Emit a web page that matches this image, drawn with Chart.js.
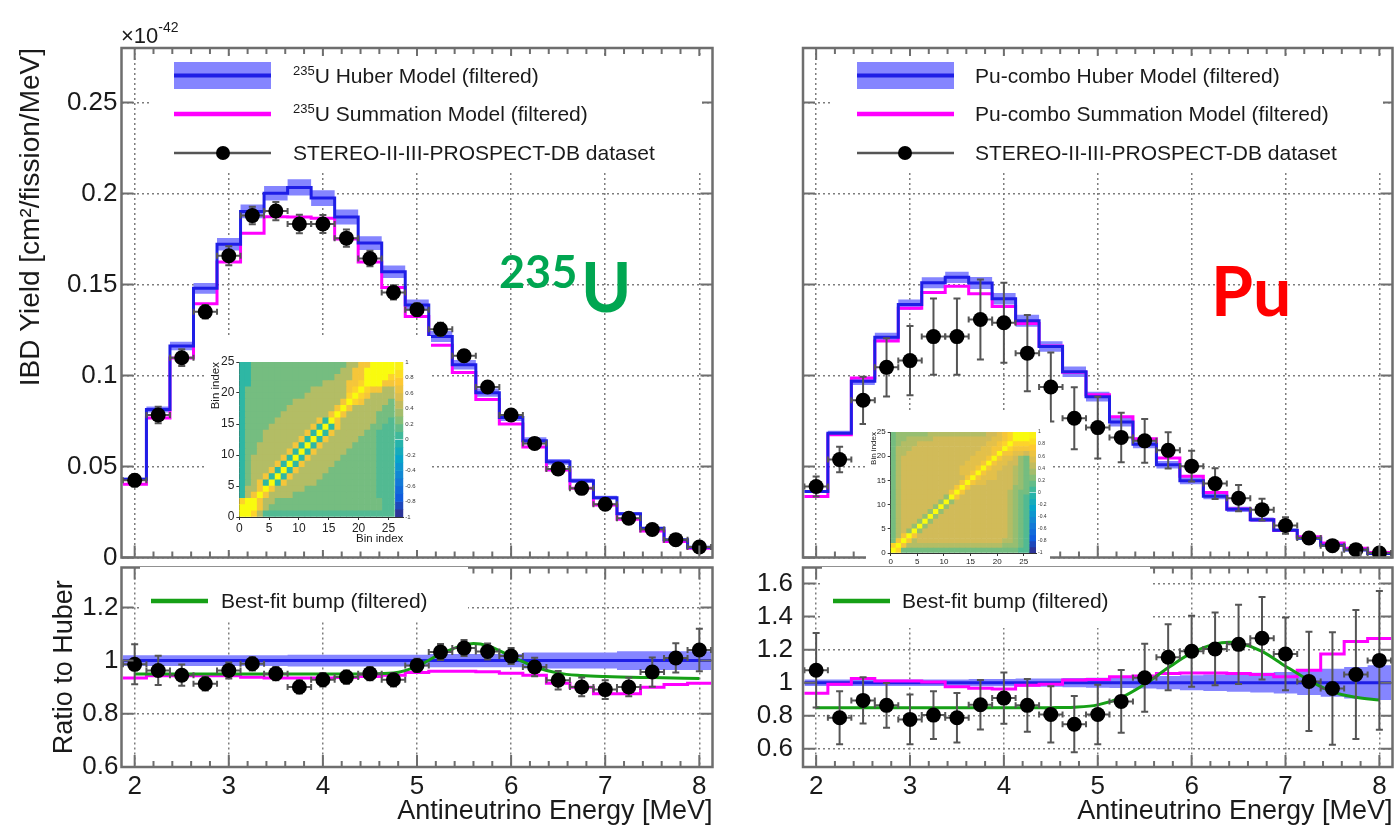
<!DOCTYPE html>
<html>
<head>
<meta charset="utf-8">
<title>IBD yield: 235U and Pu vs Huber / summation models</title>
<script src="https://cdn.jsdelivr.net/npm/chart.js@4.4.1/dist/chart.umd.min.js"></script>
<style>
  body { margin: 0; width: 1400px; height: 828px; background: #fff; position: relative; overflow: hidden; }
  canvas { position: absolute; }
  canvas.inset { background: #fff; }
  svg { position: absolute; left: 0; top: 0; pointer-events: none; }
</style>
</head>
<body>
<canvas id="yieldU" width="720" height="565" style="left:0;top:0"></canvas>
<canvas id="ratioU" width="720" height="268" style="left:0;top:560px"></canvas>
<canvas id="yieldPu" width="680" height="565" style="left:720px;top:0"></canvas>
<canvas id="ratioPu" width="680" height="268" style="left:720px;top:560px"></canvas>
<canvas id="corrU" class="inset" width="224" height="214" style="left:207px;top:336px"></canvas>
<canvas id="corrPu" class="inset" width="184" height="154" style="left:866px;top:410px"></canvas>

<svg width="1400" height="828" font-family="Liberation Sans, Arial, sans-serif" fill="#1a1a1a">
  <!-- exponent of the yield axis -->
  <text x="121" y="43" font-size="22">×10<tspan font-size="14" dy="-11">-42</tspan></text>

  <!-- 235U legend -->
  <rect x="150" y="56" width="552" height="116" fill="#fff"/>
  <rect x="174" y="62" width="97" height="27" fill="#8585ff"/>
  <line x1="174" y1="75.5" x2="271" y2="75.5" stroke="#1e1ee6" stroke-width="4"/>
  <text x="293" y="83" font-size="21"><tspan font-size="13" dy="-8">235</tspan><tspan dy="8">U Huber Model (filtered)</tspan></text>
  <line x1="174" y1="114" x2="271" y2="114" stroke="#ff00ff" stroke-width="4.5"/>
  <text x="293" y="121" font-size="21"><tspan font-size="13" dy="-8">235</tspan><tspan dy="8">U Summation Model (filtered)</tspan></text>
  <line x1="174" y1="153" x2="271" y2="153" stroke="#555" stroke-width="2.5"/>
  <circle cx="223" cy="153" r="7" fill="#000"/>
  <text x="293" y="160" font-size="21">STEREO-II-III-PROSPECT-DB dataset</text>

  <!-- Pu legend -->
  <rect x="831" y="56" width="552" height="116" fill="#fff"/>
  <rect x="857" y="62" width="97" height="27" fill="#8585ff"/>
  <line x1="857" y1="75.5" x2="954" y2="75.5" stroke="#1e1ee6" stroke-width="4"/>
  <text x="975" y="83" font-size="21">Pu-combo Huber Model (filtered)</text>
  <line x1="857" y1="114" x2="954" y2="114" stroke="#ff00ff" stroke-width="4.5"/>
  <text x="975" y="121" font-size="21">Pu-combo Summation Model (filtered)</text>
  <line x1="857" y1="153" x2="954" y2="153" stroke="#555" stroke-width="2.5"/>
  <circle cx="905" cy="153" r="7" fill="#000"/>
  <text x="975" y="160" font-size="21">STEREO-II-III-PROSPECT-DB dataset</text>

  <!-- bump legends -->
  <rect x="140" y="567" width="328" height="55" fill="#fff"/>
  <line x1="151" y1="601" x2="208" y2="601" stroke="#16a016" stroke-width="4.5"/>
  <text x="221" y="608" font-size="21">Best-fit bump (filtered)</text>
  <rect x="822" y="567" width="328" height="61" fill="#fff"/>
  <line x1="833" y1="601" x2="890" y2="601" stroke="#16a016" stroke-width="4.5"/>
  <text x="902" y="608" font-size="21">Best-fit bump (filtered)</text>

  <!-- isotope tags -->
  <text x="499" y="288" font-family="Lato, Open Sans, sans-serif" font-weight="700" font-size="45" fill="#00a651">235</text>
  <text x="581" y="312" font-family="Lato, Open Sans, sans-serif" font-weight="700" font-size="68" fill="#00a651">U</text>
  <text x="1211" y="316" font-family="Lato, Open Sans, sans-serif" font-weight="700" font-size="68" fill="#ff0000">Pu</text>
</svg>

<script>
// bin centres (MeV), bins are 0.25 MeV wide
var energy = [2.0, 2.25, 2.5, 2.75, 3.0, 3.25, 3.5, 3.75, 4.0, 4.25, 4.5, 4.75, 5.0,
              5.25, 5.5, 5.75, 6.0, 6.25, 6.5, 6.75, 7.0, 7.25, 7.5, 7.75, 8.0];
var binHalf = 0.125;

// ---- 235U, yield in 1e-42 cm2/fission/MeV ----
var huberU = [0.043, 0.0813, 0.1162, 0.1479, 0.1722, 0.1902, 0.2002, 0.2034, 0.1975, 0.1871, 0.1728, 0.157, 0.1387,
              0.1215, 0.1059, 0.0906, 0.077, 0.0642, 0.0526, 0.0422, 0.0329, 0.024, 0.0161, 0.0097, 0.0056];
var huberBandU = [0.02, 0.02, 0.02, 0.02, 0.02, 0.02, 0.02, 0.022, 0.022, 0.022, 0.022, 0.022, 0.022,
                  0.025, 0.025, 0.025, 0.025, 0.03, 0.03, 0.03, 0.03, 0.035, 0.035, 0.035, 0.035];
var summationU = [0.0402, 0.0767, 0.1096, 0.1395, 0.1624, 0.1782, 0.1872, 0.1871, 0.1865, 0.1751, 0.1624, 0.1484, 0.1325,
                  0.1166, 0.1017, 0.0868, 0.0733, 0.0607, 0.0481, 0.038, 0.0288, 0.021, 0.0145, 0.0088, 0.0051];
var yieldU = [0.0424, 0.0783, 0.1098, 0.135, 0.1658, 0.1879, 0.1904, 0.1833, 0.1833, 0.1755, 0.1643, 0.1457, 0.1362,
              0.1254, 0.1109, 0.0937, 0.0783, 0.0627, 0.0487, 0.038, 0.0293, 0.0216, 0.0154, 0.0098, 0.0058];
var yieldErrU = [0.0032, 0.0045, 0.0046, 0.0037, 0.0052, 0.0048, 0.005, 0.0051, 0.0049, 0.0047, 0.0043, 0.0039, 0.0035,
                 0.0036, 0.0032, 0.0027, 0.0023, 0.0022, 0.0018, 0.0015, 0.0012, 0.0008, 0.0009, 0.0005, 0.0004];
var ratioU = [0.986, 0.963, 0.945, 0.913, 0.963, 0.988, 0.951, 0.901, 0.928, 0.938, 0.951, 0.928, 0.982,
              1.032, 1.047, 1.034, 1.017, 0.976, 0.926, 0.901, 0.891, 0.901, 0.957, 1.01, 1.04];
var ratioErrU = [0.075, 0.055, 0.04, 0.025, 0.03, 0.025, 0.025, 0.025, 0.025, 0.025, 0.025, 0.025, 0.025,
                 0.03, 0.03, 0.03, 0.03, 0.035, 0.035, 0.035, 0.035, 0.035, 0.055, 0.055, 0.08];
var summationRatioU = [0.935, 0.943, 0.943, 0.943, 0.943, 0.937, 0.935, 0.935, 0.935, 0.936, 0.94, 0.945, 0.955,
                       0.96, 0.96, 0.958, 0.952, 0.945, 0.915, 0.9, 0.875, 0.875, 0.9, 0.91, 0.915];
var bumpEnergyU = [2.0, 2.5, 3.0, 3.5, 4.0, 4.5, 4.75, 5.0, 5.25, 5.5, 5.6, 5.75, 6.0, 6.25, 6.5, 6.75, 7.0, 7.5, 8.0];
var bumpU = [0.95, 0.95, 0.95, 0.95, 0.95, 0.95, 0.953, 0.978, 1.025, 1.058, 1.064, 1.056, 1.016, 0.977, 0.953, 0.944, 0.94, 0.936, 0.933];

// ---- Pu-combo ----
var huberPu = [0.0363, 0.0683, 0.0968, 0.1211, 0.139, 0.151, 0.154, 0.1509, 0.1422, 0.1301, 0.116, 0.1021, 0.0884,
               0.0744, 0.0622, 0.051, 0.0422, 0.0337, 0.0265, 0.0207, 0.015, 0.0106, 0.0067, 0.0041, 0.0022];
var huberBandPu = [0.02, 0.02, 0.02, 0.02, 0.02, 0.02, 0.02, 0.022, 0.022, 0.025, 0.025, 0.028, 0.03,
                   0.032, 0.035, 0.04, 0.045, 0.05, 0.055, 0.06, 0.065, 0.075, 0.085, 0.095, 0.105];
var summationPu = [0.0335, 0.0674, 0.0987, 0.119, 0.137, 0.1457, 0.149, 0.1449, 0.138, 0.1286, 0.1163, 0.1018, 0.0895,
                   0.0773, 0.0652, 0.0547, 0.0447, 0.0357, 0.0266, 0.0207, 0.0148, 0.0114, 0.0079, 0.0051, 0.0028];
var yieldPu = [0.039, 0.0538, 0.0864, 0.1045, 0.1082, 0.1214, 0.1214, 0.1308, 0.129, 0.1123, 0.0937, 0.0765, 0.0714,
               0.066, 0.0641, 0.0589, 0.0502, 0.0406, 0.0326, 0.0263, 0.0176, 0.0107, 0.0065, 0.0043, 0.0025];
var yieldErrPu = [0.0055, 0.007, 0.013, 0.016, 0.019, 0.021, 0.021, 0.022, 0.022, 0.021, 0.019, 0.017, 0.017,
                  0.0136, 0.012, 0.01, 0.0084, 0.0084, 0.0072, 0.006, 0.0045, 0.0032, 0.0023, 0.0016, 0.0009];
var ratioPu = [1.075, 0.788, 0.893, 0.863, 0.778, 0.804, 0.788, 0.867, 0.907, 0.863, 0.808, 0.749, 0.808,
               0.887, 1.03, 1.154, 1.19, 1.204, 1.232, 1.269, 1.174, 1.008, 0.965, 1.05, 1.135];
var ratioErrPu = [0.225, 0.16, 0.14, 0.135, 0.15, 0.145, 0.15, 0.15, 0.155, 0.16, 0.17, 0.17, 0.18,
                  0.19, 0.205, 0.2, 0.215, 0.22, 0.24, 0.25, 0.22, 0.3, 0.34, 0.39, 0.42];
var summationRatioPu = [0.936, 0.99, 1.026, 1.01, 1.01, 1.005, 0.976, 0.966, 0.962, 0.985, 0.99, 1.016, 1.02,
                        1.036, 1.04, 1.055, 1.058, 1.058, 1.055, 1.05, 1.036, 1.075, 1.174, 1.25, 1.267];
var bumpEnergyPu = [2.0, 2.5, 3.0, 3.5, 4.0, 4.5, 4.75, 5.0, 5.25, 5.5, 5.75, 6.0, 6.25, 6.4, 6.5, 6.75, 7.0, 7.25, 7.5, 7.75, 8.0];
var bumpPu = [0.848, 0.848, 0.848, 0.848, 0.848, 0.849, 0.852, 0.866, 0.91, 0.99, 1.09, 1.18, 1.235, 1.245, 1.24, 1.19, 1.1, 1.015, 0.945, 0.912, 0.895];

// ---- correlation matrices (insets), one string per bin row from bottom, A = 1.0, digit d = d/10 ----
var corrRowsU = [
  "AA841 11111 11111 11111 11111 1",
  "AAA74 22222 22222 22222 22221 1",
  "8AA74 42222 22222 22222 22221 1",
  "047A7 44442 22222 22222 22211 1",
  "0447A 74444 42222 22222 22211 1",
  "02470 A0744 44422 22222 22211 1",
  "02447 0A074 44442 22222 22211 1",
  "02444 70A07 44444 22222 22211 1",
  "02444 470A0 74444 42222 22211 1",
  "02444 4470A 07444 44222 22211 1",
  "02244 44470 A0744 44422 22211 1",
  "02244 44447 0A074 44442 22211 1",
  "02224 44444 70A07 44444 22211 1",
  "02224 44444 470A0 74444 42211 1",
  "02222 44444 4470A 07444 44221 1",
  "02222 24444 44470 A7444 44422 1",
  "02222 22444 44444 7A744 44422 2",
  "02222 22244 44444 47A74 44442 2",
  "02222 22224 44444 447A8 74444 2",
  "02222 22222 24444 4448A 87444 4",
  "02222 22222 22444 44478 A8774 4",
  "00222 22222 22224 44477 8AAA7 7",
  "00222 22222 22222 24447 7AAAA 8",
  "00222 22222 22222 22447 7AAAA A",
  "00222 22222 22222 22244 77AAA A"
];
var corrRowsPu = [
  "A8222 22222 22222 22222 22221 1",
  "8A744 44444 44444 44444 43332 1",
  "27A74 55555 55555 55555 54432 1",
  "247A7 55555 55555 55555 55432 1",
  "2453A 35555 55555 55555 55432 1",
  "24553 A3555 55555 55555 55432 1",
  "24555 3A355 55555 55555 55432 1",
  "24555 53A35 55555 55555 55432 1",
  "24555 553A3 55555 55555 55432 1",
  "24555 5553A 35555 55555 55432 1",
  "24555 55553 A3555 55555 55432 1",
  "24555 55555 3A755 55555 55432 1",
  "24555 55555 57A75 55555 55432 2",
  "24555 55555 557A7 55555 55533 2",
  "24555 55555 5557A 76655 55543 2",
  "24555 55555 55557 A7666 55543 2",
  "24555 55555 55566 7A766 55543 2",
  "24555 55555 55566 67A76 65543 2",
  "24555 55555 55556 667A7 66553 2",
  "24555 55555 55555 6667A 76653 2",
  "24455 55555 55555 56667 A7766 5",
  "24445 55555 55555 55667 7A877 7",
  "23444 55555 55555 55566 78A88 8",
  "23344 44455 55555 55556 678AA A",
  "23333 33444 44444 44455 678AA A"
];
var paletteSteps = [-1, -0.9, -0.8, -0.7, -0.6, -0.5, -0.4, -0.3, -0.2, -0.1, 0, 0.1, 0.2, 0.3, 0.4, 0.5, 0.6, 0.7, 0.8, 0.9];

// ROOT "bird" palette
var birdStops = [0, 0.125, 0.25, 0.375, 0.5, 0.625, 0.75, 0.875, 1];
var birdR = [0.2082, 0.0592, 0.0780, 0.0232, 0.1802, 0.5301, 0.8186, 0.9956, 0.9764];
var birdG = [0.1664, 0.3599, 0.5041, 0.6419, 0.7178, 0.7492, 0.7328, 0.7862, 0.9832];
var birdB = [0.5293, 0.8684, 0.8385, 0.7914, 0.6425, 0.4662, 0.3499, 0.1968, 0.0539];

var huberBlue = '#1e1ee6', bandBlue = '#8585ff', sumPink = '#ff00ff', bumpGreen = '#16a016';
var barGray = '#555', gridGray = '#7d7d7d', frameGray = '#6e6e6e';

Chart.defaults.font.family = '"Liberation Sans", Arial, Helvetica, sans-serif';
Chart.defaults.color = '#1a1a1a';
Chart.defaults.animation = false;
Chart.defaults.plugins.legend.display = false;
Chart.defaults.plugins.tooltip.enabled = false;

//colour for a correlation value in [-1, 1]
function bird(v) {
  var f = Math.min(1, Math.max(0, (v + 1) / 2));
  var k = 0;
  while (k < birdStops.length - 2 && f > birdStops[k + 1]) k++;
  var t = (f - birdStops[k]) / (birdStops[k + 1] - birdStops[k]);
  function ch(a) { return Math.round(255 * (a[k] + t * (a[k + 1] - a[k]))); }
  return 'rgb(' + ch(birdR) + ',' + ch(birdG) + ',' + ch(birdB) + ')';
}
function cellCorr(c) { return c === 'A' ? 1 : parseInt(c, 10) / 10; }

//pin an axis to a given size so the plot frames land where they should
function fixSize(w, h) {
  return function (s) {
    if (w !== null) s.width = w;
    if (h !== null) s.height = h;
    s.paddingTop = 0; s.paddingBottom = 0; s.paddingLeft = 0; s.paddingRight = 0;
  };
}
function fmt(v) { return String(+v.toFixed(2)); }

//histogram outline: each bin becomes a flat segment
function stepLine(vals) {
  var pts = [];
  for (var i = 0; i < energy.length; i++) {
    pts.push({x: energy[i] - binHalf, y: vals[i]});
    pts.push({x: energy[i] + binHalf, y: vals[i]});
  }
  return pts;
}
function vErr(vals, errs) {
  var pts = [];
  for (var i = 0; i < energy.length; i++) {
    pts.push({x: energy[i], y: vals[i] - errs[i]}, {x: energy[i], y: vals[i] + errs[i]}, {x: energy[i], y: null});
  }
  return pts;
}
function hErr(vals) {
  var pts = [];
  for (var i = 0; i < energy.length; i++) {
    pts.push({x: energy[i] - binHalf, y: vals[i]}, {x: energy[i] + binHalf, y: vals[i]}, {x: energy[i], y: null});
  }
  return pts;
}
function points(vals) {
  return energy.map(function (e, i) { return {x: e, y: vals[i]}; });
}

function markerSets(vals, errs) {
  return [
    {data: points(vals), showLine: false, pointRadius: 7.5, pointBackgroundColor: '#000', pointBorderWidth: 0, order: 0},
    {data: vErr(vals, errs), borderColor: barGray, borderWidth: 2, pointStyle: 'line', pointRadius: 3.5,
     pointBorderColor: barGray, pointBorderWidth: 2, order: 1},
    {data: hErr(vals), borderColor: barGray, borderWidth: 2, pointStyle: 'line', pointRotation: 90, pointRadius: 3,
     pointBorderColor: barGray, pointBorderWidth: 2, order: 1}
  ];
}

function yieldSets(huber, band, summation, vals, errs) {
  return markerSets(vals, errs).concat([
    {data: stepLine(huber), borderColor: huberBlue, borderWidth: 3, pointRadius: 0, order: 2},
    {data: stepLine(summation), borderColor: sumPink, borderWidth: 3, pointRadius: 0, order: 3},
    {data: stepLine(huber.map(function (v, i) { return v * (1 + band[i]); })), borderWidth: 0, pointRadius: 0,
     fill: '+1', backgroundColor: bandBlue, order: 4},
    {data: stepLine(huber.map(function (v, i) { return v * (1 - band[i]); })), borderWidth: 0, pointRadius: 0, order: 5}
  ]);
}

function ratioSets(band, sumRatio, bumpE, bump, vals, errs) {
  var ones = energy.map(function () { return 1; });
  return markerSets(vals, errs).concat([
    {data: bumpE.map(function (e, i) { return {x: e, y: bump[i]}; }), borderColor: bumpGreen, borderWidth: 3,
     pointRadius: 0, cubicInterpolationMode: 'monotone', order: 2},
    {data: stepLine(sumRatio), borderColor: sumPink, borderWidth: 3, pointRadius: 0, order: 3},
    {data: stepLine(ones), borderColor: huberBlue, borderWidth: 3, pointRadius: 0, order: 4},
    {data: stepLine(band.map(function (b) { return 1 + b; })), borderWidth: 0, pointRadius: 0,
     fill: '+1', backgroundColor: bandBlue, order: 5},
    {data: stepLine(band.map(function (b) { return 1 - b; })), borderWidth: 0, pointRadius: 0, order: 6}
  ]);
}

//ROOT style frame with inward tick marks on all four sides
var frameTicks = {
  id: 'frameTicks',
  afterDraw: function (chart, args, o) {
    if (!o || !o.xStep) return;
    var ctx = chart.ctx, a = chart.chartArea, sx = chart.scales.x, sy = chart.scales.y;
    var k, v, p, len;
    ctx.save();
    ctx.strokeStyle = frameGray;
    ctx.lineWidth = 2;
    ctx.beginPath();
    for (k = Math.ceil(sx.min / o.xMinor - 1e-6); k * o.xMinor <= sx.max + 1e-9; k++) {
      v = k * o.xMinor;
      p = sx.getPixelForValue(v);
      len = Math.abs(v / o.xStep - Math.round(v / o.xStep)) < 1e-6 ? 12 : 6;
      ctx.moveTo(p, a.bottom); ctx.lineTo(p, a.bottom - len);
      ctx.moveTo(p, a.top); ctx.lineTo(p, a.top + len);
    }
    for (k = Math.ceil(sy.min / o.yStep - 1e-6); k * o.yStep <= sy.max + 1e-9; k++) {
      p = sy.getPixelForValue(k * o.yStep);
      ctx.moveTo(a.left, p); ctx.lineTo(a.left + 12, p);
      ctx.moveTo(a.right, p); ctx.lineTo(a.right - 12, p);
    }
    ctx.stroke();
    ctx.lineWidth = 2.5;
    ctx.strokeRect(a.left, a.top, a.right - a.left, a.bottom - a.top);
    ctx.restore();
  }
};
Chart.register(frameTicks);

function energyAxis(labels) {
  return {
    type: 'linear', min: 1.86, max: 8.14,
    ticks: {display: labels, stepSize: 1, includeBounds: false, autoSkip: false, padding: 4, maxRotation: 0, font: {size: 26}},
    grid: {color: gridGray, lineWidth: 1.5, drawTicks: false},
    border: {display: false, dash: [2, 3]},
    title: {display: labels, text: 'Antineutrino Energy [MeV]', align: 'end', font: {size: 27}, padding: 0},
    afterFit: fixSize(null, labels ? 61 : 0)
  };
}
function valueAxis(min, max, step, width, labels, pad, title, titleSize, titlePad, titleAlign) {
  return {
    min: min, max: max,
    ticks: {display: labels, stepSize: step, includeBounds: false, autoSkip: false, padding: pad, font: {size: 26}, callback: fmt},
    grid: {color: gridGray, lineWidth: 1.5, drawTicks: false},
    border: {display: false, dash: [2, 3]},
    title: {display: !!title, text: title, align: titleAlign, font: {size: titleSize}, padding: {top: titlePad, bottom: 0}},
    afterFit: fixSize(width, null)
  };
}

function panel(id, sets, x, y, pad, yStep) {
  return new Chart(document.getElementById(id), {
    type: 'line',
    data: {datasets: sets},
    options: {
      responsive: false,
      layout: {padding: pad},
      elements: {line: {tension: 0}},
      scales: {x: x, y: y},
      plugins: {frameTicks: {xStep: 1, xMinor: 0.2, yStep: yStep}}
    }
  });
}

panel('yieldU', yieldSets(huberU, huberBandU, summationU, yieldU, yieldErrU),
      energyAxis(false),
      valueAxis(0, 0.28, 0.05, 121.5, true, 4, 'IBD Yield [cm²/fission/MeV]', 28, 14, 'end'),
      {top: 48, right: 4, bottom: 0, left: 0}, 0.05);
panel('ratioU', ratioSets(huberBandU, summationRatioU, bumpEnergyU, bumpU, ratioU, ratioErrU),
      energyAxis(true),
      valueAxis(0.6, 1.35, 0.2, 121.5, true, 3, 'Ratio to Huber', 27, 48, 'center'),
      {top: 5, right: 4, bottom: 0, left: 0}, 0.2);
panel('yieldPu', yieldSets(huberPu, huberBandPu, summationPu, yieldPu, yieldErrPu),
      energyAxis(false),
      valueAxis(0, 0.28, 0.05, 83, false, 4, '', 20, 0, 'center'),
      {top: 48, right: 3, bottom: 0, left: 0}, 0.05);
panel('ratioPu', ratioSets(huberBandPu, summationRatioPu, bumpEnergyPu, bumpPu, ratioPu, ratioErrPu),
      energyAxis(true),
      valueAxis(0.49, 1.697, 0.2, 83, true, 10, '', 20, 0, 'center'),
      {top: 5, right: 3, bottom: 0, left: 0}, 0.2);

//correlation matrix inset, cells are floating bars one bin tall
function insetChart(id, rows, g) {
  var sets = rows.map(function (row, j) {
    var cells = row.replace(/ /g, '').split('');
    return {
      data: cells.map(function (c, i) { return {x: i + 0.5, y: [j, j + 1]}; }),
      backgroundColor: cells.map(function (c) { return bird(cellCorr(c)); }),
      borderWidth: 0, grouped: false, barPercentage: 1, categoryPercentage: 1
    };
  });
  sets.push({
    yAxisID: 'pal',
    data: paletteSteps.map(function (v) { return {x: g.barX, y: [v, v + 0.1]}; }),
    backgroundColor: paletteSteps.map(function (v) { return bird(v + 0.05); }),
    borderWidth: 0, grouped: false, barThickness: g.barPx
  });
  return new Chart(document.getElementById(id), {
    type: 'bar',
    data: {datasets: sets},
    options: {
      responsive: false,
      layout: {padding: {top: g.top, right: 0, bottom: 0, left: 0}},
      scales: {
        x: {type: 'linear', min: 0, max: g.xMax, offset: false,
            ticks: {stepSize: 5, includeBounds: false, autoSkip: false, padding: 1, maxRotation: 0, font: {size: g.tick}, color: '#222'},
            grid: {offset: false, drawOnChartArea: false, tickLength: 3, color: '#333'},
            border: {color: '#333', width: 1},
            title: {display: g.xTitle, text: 'Bin index', align: 'end', font: {size: g.title}, padding: {top: 0, bottom: 4}},
            afterFit: fixSize(null, g.xh)},
        y: {type: 'linear', min: 0, max: 25,
            ticks: {stepSize: 5, includeBounds: false, autoSkip: false, padding: 2, font: {size: g.tick}, color: '#222'},
            grid: {drawOnChartArea: false, tickLength: 3, color: '#333'},
            border: {color: '#333', width: 1},
            title: {display: true, text: 'Bin index', align: 'end', font: {size: g.title}, padding: {top: g.yTitlePad, bottom: 0}},
            afterFit: fixSize(g.yw, null)},
        pal: {type: 'linear', position: 'right', min: -1, max: 1,
              ticks: {stepSize: 0.2, includeBounds: false, autoSkip: false, padding: 2, font: {size: g.pal}, color: '#333', callback: fmt},
              grid: {drawOnChartArea: false, drawTicks: false},
              border: {display: false},
              afterFit: fixSize(g.pw, null)}
      }
    }
  });
}

insetChart('corrU', corrRowsU, {top: 26, yw: 32.3, pw: 27.7, xh: 33, xMax: 27.5, barX: 26.85, barPx: 8,
                                tick: 12, title: 11.5, pal: 6, xTitle: true, yTitlePad: 2});
insetChart('corrPu', corrRowsPu, {top: 22, yw: 24.7, pw: 14, xh: 11, xMax: 27.3, barX: 26.65, barPx: 7,
                                  tick: 8, title: 8, pal: 5, xTitle: false, yTitlePad: 3});
</script>
</body>
</html>
